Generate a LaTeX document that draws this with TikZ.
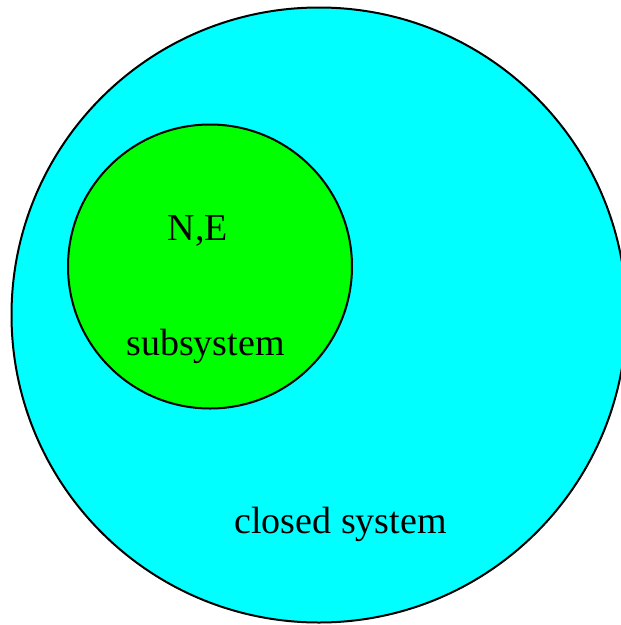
\documentclass[tikz,border=0pt]{standalone}
\usepackage{fontspec}
\setmainfont{Liberation Serif}
\usepackage{tikz}
\usetikzlibrary{positioning}
\definecolor{Closed}{HTML}{00FFFF}
\definecolor{Sub}{HTML}{00FF00}

\begin{document}
\begin{tikzpicture}[x=1pt,y=-1pt,font=\fontsize{38}{44}\selectfont,
    sys/.style={circle,draw=black,line width=2pt,inner sep=0pt},
    lbl/.style={anchor=base,inner sep=0pt}]
  \clip (0,0) rectangle (621,625);
  \node[sys,fill=Closed,minimum size=615pt] (closed) at (319,315) {};
  \node[sys,fill=Sub,minimum size=284pt] (sub) at (210,266.5) {};
  \node[lbl] (ne) at (198,240) {N,E};
  \node[lbl] (subname) at (205.5,355) {subsystem};
  \node[lbl] (closedname) at (340.5,533) {closed system};
\end{tikzpicture}
\end{document}
